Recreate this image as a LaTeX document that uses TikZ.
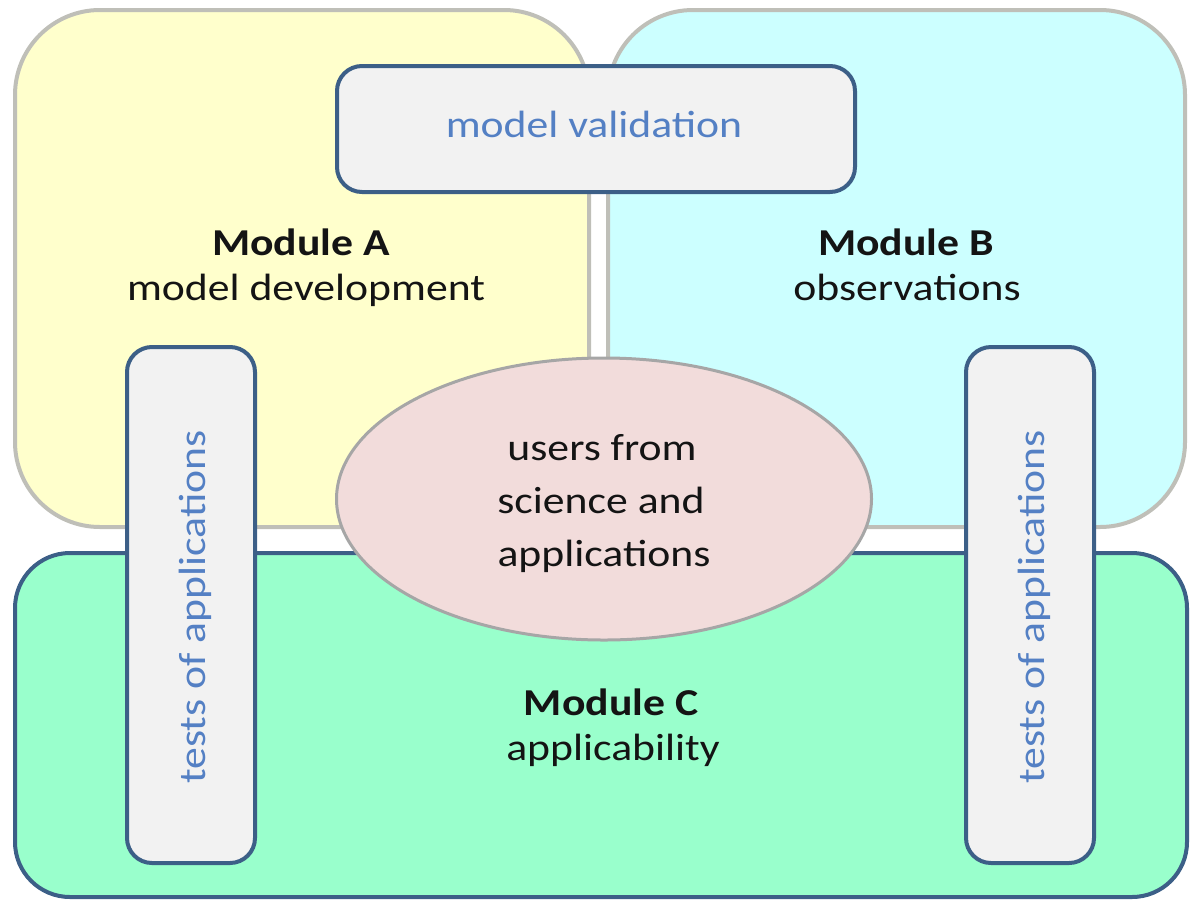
\documentclass[tikz,border=0pt]{standalone}
\usepackage{fontspec}
\setmainfont{Carlito}[FakeStretch=1.15]
\usetikzlibrary{shapes.geometric}
\definecolor{yelfill}{RGB}{255,255,204}
\definecolor{cyanfill}{RGB}{204,255,255}
\definecolor{mintfill}{RGB}{153,255,204}
\definecolor{boxfill}{RGB}{242,242,242}
\definecolor{pinkfill}{RGB}{242,220,219}
\definecolor{graybd}{RGB}{191,191,184}
\definecolor{ellbd}{RGB}{166,166,166}
\definecolor{darkbd}{RGB}{60,95,135}
\definecolor{bluetxt}{RGB}{84,128,196}
\definecolor{blacktxt}{RGB}{20,20,20}
\begin{document}
\begin{tikzpicture}[x=1pt,y=-1pt,
  every node/.style={inner sep=0pt, outer sep=0pt},
  modbox/.style={draw=graybd, line width=4pt, rounded corners=85pt, rectangle},
  modcbox/.style={draw=darkbd, fill=mintfill, line width=4pt, rounded corners=55pt, rectangle},
  tagbox/.style={draw=darkbd, fill=boxfill, line width=4pt, rounded corners=25pt, rectangle},
  bigtxt/.style={font=\fontsize{38}{46}\selectfont, text=blacktxt, anchor=base},
  boldtxt/.style={font=\fontsize{38}{46}\selectfont\bfseries, text=blacktxt, anchor=base},
  bluelbl/.style={font=\fontsize{38}{46}\selectfont, text=bluetxt, anchor=base}
]
\useasboundingbox (0,0) rectangle (1190,900);
% module boxes
\node[modbox, fill=yelfill, minimum width=574pt, minimum height=517pt] (modA) at (302,268.5) {};
\node[modbox, fill=cyanfill, minimum width=577pt, minimum height=517pt] (modB) at (896.5,268.5) {};
\node[modcbox, minimum width=1172pt, minimum height=344pt] (modC) at (601,725) {};
% labels of modules
\node[boldtxt] (modAt) at (301,255) {Module A};
\node[bigtxt] (modAs) at (306,300) {model development};
\node[boldtxt] (modBt) at (906,255) {Module B};
\node[bigtxt] (modBs) at (907,300) {observations};
\node[boldtxt] (modCt) at (611,715) {Module C};
\node[bigtxt] (modCs) at (613,760) {applicability};
% model validation
\node[tagbox, minimum width=518pt, minimum height=126pt] (valid) at (596,129) {};
\node[bluelbl] (validt) at (594,137) {model validation};
% tests of applications
\node[tagbox, minimum width=128pt, minimum height=516pt] (testL) at (191,605) {};
\node[bluelbl, rotate=90] (testLt) at (205,607) {tests of applications};
\node[tagbox, minimum width=128pt, minimum height=516pt] (testR) at (1030,605) {};
\node[bluelbl, rotate=90] (testRt) at (1044,607) {tests of applications};
% users ellipse
\node[ellipse, draw=ellbd, fill=pinkfill, line width=3pt, minimum width=535pt, minimum height=282pt] (users) at (604,499) {};
\node[bigtxt] (users1) at (602,460) {users from};
\node[bigtxt] (users2) at (601,513) {science and};
\node[bigtxt] (users3) at (604,566) {applications};
\end{tikzpicture}
\end{document}
